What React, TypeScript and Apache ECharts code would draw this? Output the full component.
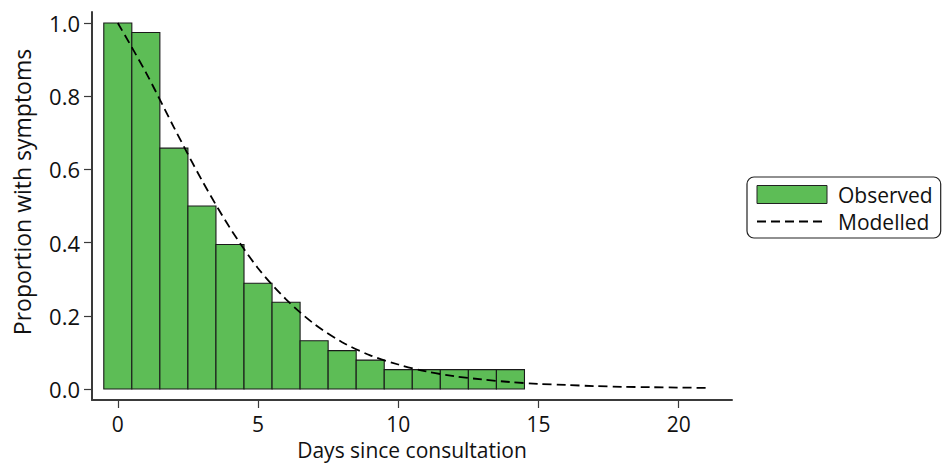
import React, { useEffect, useRef } from "react";
import * as echarts from "echarts";

const observedDays = [0, 1, 2, 3, 4, 5, 6, 7, 8, 9, 10, 11, 12, 13, 14];
const observedValues = [1.0, 0.974, 0.658, 0.5, 0.395, 0.289, 0.237, 0.132, 0.105, 0.079, 0.053, 0.053, 0.053, 0.053, 0.053];

const modelDays = [0, 1, 2, 3, 4, 5, 6, 7, 8, 9, 10, 11, 12, 13, 14, 15, 16, 17, 18, 19, 20, 21];
const modelValues = [1.0, 0.865, 0.715, 0.57, 0.44, 0.33, 0.245, 0.178, 0.128, 0.092, 0.067, 0.048, 0.035, 0.026, 0.019, 0.014, 0.011, 0.008, 0.006, 0.005, 0.004, 0.003];

const xTicks = [0, 5, 10, 15, 20];
const yTicks = [0, 0.2, 0.4, 0.6, 0.8, 1.0];

const FONT = "Open Sans";
const GREEN = "#5dbd56";
const AXIS = "#3a3a3a";

export default function App() {
  const ref = useRef<HTMLDivElement>(null);
  useEffect(() => {
    if (!ref.current) return;
    const chart = echarts.init(ref.current, null, { renderer: "svg" });
    chart.setOption({
      animation: false,
      textStyle: { fontFamily: FONT },
      grid: { left: 92, right: 210, top: 12, bottom: 61, containLabel: false },
      legend: {
        orient: "vertical",
        left: 747,
        top: 177,
        padding: [7, 8, 6, 9],
        itemGap: 6,
        itemWidth: 70,
        itemHeight: 18,
        borderColor: "#222",
        borderWidth: 1.2,
        borderRadius: 7,
        textStyle: { fontFamily: FONT, fontSize: 21, lineHeight: 18, color: "#111", padding: [0, 0, 0, 6] },
        data: [
          { name: "Observed", icon: "rect", itemStyle: { color: GREEN, borderColor: "#222", borderWidth: 1 } },
          { name: "Modelled", itemStyle: { opacity: 0 } },
        ],
      },
      graphic: [
        {
          type: "text",
          x: 22,
          y: 192,
          rotation: Math.PI / 2,
          style: {
            text: "Proportion with symptoms",
            fontFamily: FONT,
            fontSize: 23,
            fill: "#111",
            align: "center",
            verticalAlign: "middle",
          },
        },
      ],
      xAxis: {
        type: "value",
        min: -0.92,
        max: 21.9,
        name: "Days since consultation",
        nameLocation: "middle",
        nameGap: 39,
        nameTextStyle: { fontFamily: FONT, fontSize: 21, lineHeight: 22, color: "#111" },
        axisLine: { onZero: false, lineStyle: { color: AXIS, width: 2 } },
        axisTick: { show: true, length: 8, customValues: xTicks, lineStyle: { color: AXIS, width: 1.2 } },
        axisLabel: { customValues: xTicks, margin: 13, fontFamily: FONT, fontSize: 21, lineHeight: 21, color: "#111" },
        splitLine: { show: false },
      },
      yAxis: {
        type: "value",
        min: -0.03,
        max: 1.03,
        axisLine: { show: true, onZero: false, lineStyle: { color: AXIS, width: 2 } },
        axisTick: { show: true, length: 8, customValues: yTicks, lineStyle: { color: AXIS, width: 1.2 } },
        axisLabel: {
          customValues: yTicks,
          margin: 12,
          fontFamily: FONT,
          fontSize: 22,
          color: "#111",
          formatter: (v: number) => v.toFixed(1),
        },
        splitLine: { show: false },
      },
      series: [
        {
          name: "Observed",
          type: "custom",
          itemStyle: { color: GREEN, borderColor: "#222", borderWidth: 1 },
          data: observedDays.map((d, i) => [d, observedValues[i]]),
          renderItem: (params: any, api: any) => {
            const x = api.value(0);
            const y = api.value(1);
            const p1 = api.coord([x - 0.5, y]);
            const p2 = api.coord([x + 0.5, 0]);
            return {
              type: "rect",
              shape: { x: p1[0], y: p1[1], width: p2[0] - p1[0], height: p2[1] - p1[1] },
              style: { fill: GREEN, stroke: "#1a1a1a", lineWidth: 1.1 },
            };
          },
          z: 2,
        },
        {
          name: "Modelled",
          type: "line",
          data: modelDays.map((d, i) => [d, modelValues[i]]),
          smooth: 0.3,
          symbol: "none",
          showSymbol: false,
          lineStyle: { color: "#000", width: 1.8, type: [9, 5] },
          itemStyle: { color: "#000" },
          z: 3,
        },
      ],
    });
    return () => chart.dispose();
  }, []);
  return <div ref={ref} style={{ width: 942, height: 466, position: "absolute", left: 0, top: 0 }} />;
}
